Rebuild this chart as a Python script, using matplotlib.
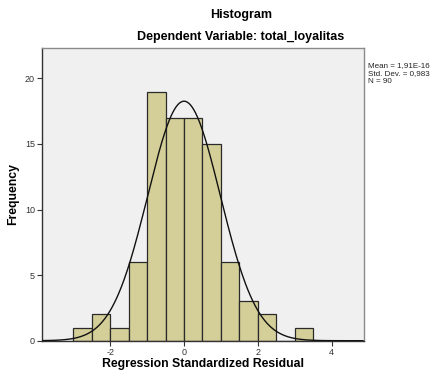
import numpy as np
import matplotlib
matplotlib.use("Agg")
import matplotlib.pyplot as plt

plt.rcParams['font.family'] = ['Liberation Sans', 'DejaVu Sans']

bin_edges = [-3.0, -2.5, -2.0, -1.5, -1.0, -0.5, 0.0, 0.5, 1.0, 1.5, 2.0, 2.5, 3.0, 3.5]
counts = [1, 2, 1, 6, 19, 17, 17, 15, 6, 3, 2, 0, 1]
mean = 1.91e-16
std = 0.983
n = 90
xticks = [-2, 0, 2, 4]
yticks = [0, 5, 10, 15, 20]

fig = plt.figure(figsize=(4.37, 3.74), dpi=100)
ax = fig.add_axes([0.0961, 0.089, 0.737, 0.782])
ax.set_facecolor('#f0f0f0')

edges = np.array(bin_edges)
widths = np.diff(edges)
ax.bar(edges[:-1], counts, width=widths, align='edge', color='#d4cf98',
       edgecolor='#2a2a2a', linewidth=0.9, zorder=2)

xs = np.linspace(-3.85, 4.85, 400)
bw = widths[0]
ys = n * bw / (std * np.sqrt(2 * np.pi)) * np.exp(-0.5 * ((xs - mean) / std) ** 2)
ax.plot(xs, ys, color='#111111', linewidth=1.0, zorder=3)

ax.set_xlim(-3.85, 4.88)
ax.set_ylim(0, 22.3)
ax.set_xticks(xticks)
ax.set_xticklabels(['-2', '0', '2', '4'])
ax.set_yticks(yticks)
ax.tick_params(axis='both', labelsize=6.5, colors='#333333', length=3.5, width=0.8, pad=1.5)

for side in ['top', 'right']:
    ax.spines[side].set_color('#8a8a8a')
    ax.spines[side].set_linewidth(1.0)
for side in ['left', 'bottom']:
    ax.spines[side].set_color('#333333')
    ax.spines[side].set_linewidth(1.0)

fig.text(203 / 437, 1 - 364 / 374, 'Regression Standardized Residual', ha='center', va='center',
         fontsize=8.8, fontweight='bold')
fig.text(13 / 437, 1 - 194 / 374, 'Frequency', ha='center', va='center', rotation=90,
         fontsize=8.8, fontweight='bold')

fig.text(0.551, 1 - 15 / 374, 'Histogram', ha='center', va='center', fontsize=9, fontweight='bold')
fig.text(0.551, 1 - 37 / 374, 'Dependent Variable: total_loyalitas', ha='center', va='center',
         fontsize=9, fontweight='bold')

fig.text(368 / 437, 1 - 62 / 374,
         'Mean = 1,91E-16\nStd. Dev. = 0,983\nN = 90',
         ha='left', va='top', fontsize=5.8, color='#222222', linespacing=1.2)

fig.savefig('out.png', dpi=100)
